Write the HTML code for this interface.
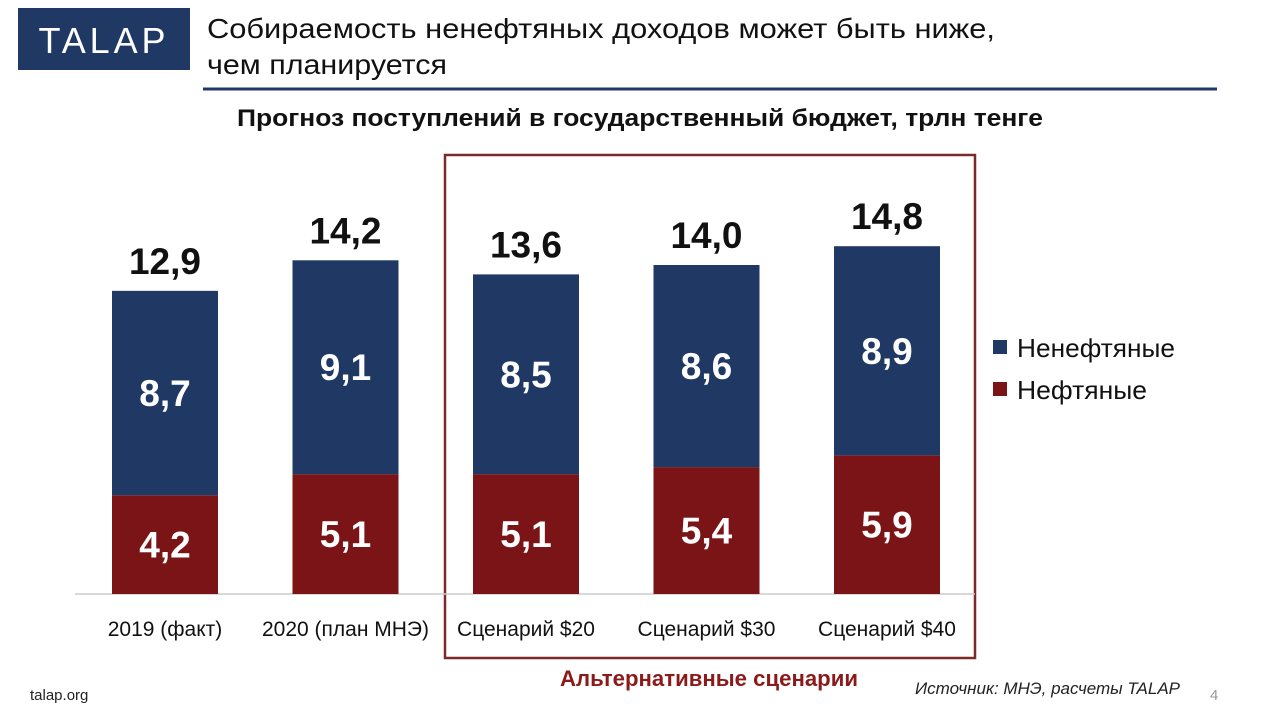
<!DOCTYPE html>
<html><head><meta charset="utf-8"><style>
body{margin:0;width:1280px;height:720px;background:#fff;overflow:hidden;font-family:"Liberation Sans",sans-serif;}
svg{display:block}
.n{font-family:"Liberation Sans Narrow","Liberation Sans",sans-serif;font-weight:bold}
</style></head><body>
<svg width="1280" height="720">
<rect x="18" y="8" width="172" height="62" fill="#1f3864"/>
<text x="102" y="53" fill="#fff" font-size="36" text-anchor="middle" textLength="127" lengthAdjust="spacing">TALAP</text>
<text x="207" y="38" font-size="28" fill="#111" textLength="788" lengthAdjust="spacingAndGlyphs">Собираемость ненефтяных доходов может быть ниже,</text>
<text x="207" y="74" font-size="28" fill="#111" textLength="240" lengthAdjust="spacingAndGlyphs">чем планируется</text>
<line x1="203" y1="89" x2="1217" y2="89" stroke="#1f3864" stroke-width="3"/>
<text x="237" y="126" font-size="24" font-weight="bold" fill="#111" textLength="806" lengthAdjust="spacingAndGlyphs">Прогноз поступлений в государственный бюджет, трлн тенге</text>
<rect x="445" y="155" width="530" height="503" fill="none" stroke="#7b2a2a" stroke-width="2.5"/>
<line x1="75" y1="594" x2="975" y2="594" stroke="#ccc" stroke-width="1.5"/>
<g id="bars"></g>
<rect x="993" y="340" width="14" height="14" fill="#1f3864"/>
<text x="1017" y="357" font-size="26" fill="#111" textLength="158" lengthAdjust="spacingAndGlyphs">Ненефтяные</text>
<rect x="993" y="382" width="14" height="14" fill="#7b1416"/>
<text x="1017" y="399" font-size="26" fill="#111" textLength="130" lengthAdjust="spacingAndGlyphs">Нефтяные</text>
<text x="560" y="686" font-size="22" font-weight="bold" fill="#8b1a1a" textLength="298" lengthAdjust="spacingAndGlyphs">Альтернативные сценарии</text>
<text x="1180" y="694" font-size="17" font-style="italic" fill="#222" text-anchor="end">Источник: МНЭ, расчеты TALAP</text>
<text x="30" y="700" font-size="15" fill="#222">talap.org</text>
<text x="1210" y="700" font-size="15" fill="#999">4</text>
</svg>
<script>
const categories=["2019 (факт)","2020 (план МНЭ)","Сценарий $20","Сценарий $30","Сценарий $40"];
const oil=[4.2,5.1,5.1,5.4,5.9];
const nonOil=[8.7,9.1,8.5,8.6,8.9];
const totals=[12.9,14.2,13.6,14.0,14.8];
const NS="http://www.w3.org/2000/svg";
const g=document.getElementById('bars');
const base=594,k=23.5,x0=112,step=180.5,bw=106;
const y=v=>base-v*k;
const fmt=v=>v.toFixed(1).replace('.',',');
function mk(t,a){const e=document.createElementNS(NS,t);for(const n in a)e.setAttribute(n,a[n]);g.appendChild(e);return e;}
categories.forEach((c,i)=>{
const x=x0+i*step,cx=x+bw/2;
let r=mk('rect',{x:x,y:y(oil[i]),width:bw,height:oil[i]*k,fill:'#7b1416'});


r=mk('rect',{x:x,y:y(oil[i]+nonOil[i]),width:bw,height:nonOil[i]*k,fill:'#1f3864'});


let t=mk('text',{x:cx,y:(y(oil[i])+base)/2+13,'font-size':37,fill:'#fff','text-anchor':'middle',class:'n'});t.textContent=fmt(oil[i]);


t=mk('text',{x:cx,y:(y(oil[i])+y(oil[i]+nonOil[i]))/2+13,'font-size':37,fill:'#fff','text-anchor':'middle',class:'n'});t.textContent=fmt(nonOil[i]);


t=mk('text',{x:cx,y:y(totals[i])-17,'font-size':37,fill:'#111','text-anchor':'middle',class:'n'});t.textContent=fmt(totals[i]);


t=mk('text',{x:cx,y:636,'font-size':21,fill:'#111','text-anchor':'middle'});t.textContent=c;


});
</script>
</body></html>
